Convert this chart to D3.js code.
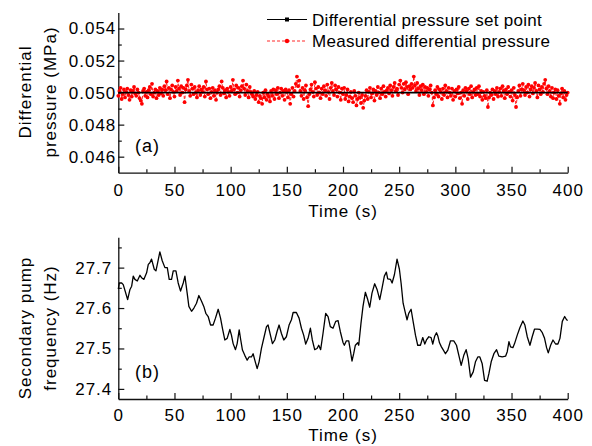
<!DOCTYPE html>
<html>
<head>
<meta charset="utf-8">
<script src="https://cdn.jsdelivr.net/npm/d3@7"></script>
<style>
body { margin: 0; background: #fff; }
svg text { font-family: "Liberation Sans", Arial, Helvetica, sans-serif; fill: #000; }
</style>
</head>
<body>
<svg id="chart" width="592" height="446"></svg>
<script>
// ---- data ----
const timeTicks = [0, 50, 100, 150, 200, 250, 300, 350, 400];
const timeMinor = [25, 75, 125, 175, 225, 275, 325, 375];
const dpTicks = [0.046, 0.048, 0.050, 0.052, 0.054];
const dpMinor = [0.047, 0.049, 0.051, 0.053];
const freqTicks = [27.4, 27.5, 27.6, 27.7];
const freqMinor = [27.45, 27.55, 27.65, 27.75];

// set point (MPa), from t=0 to t=400 s
const setTime = [0, 400];
const setValue = [0.050, 0.050];

// measured differential pressure, one sample per second (t = 0..400)
const measuredDP = [
  0.04980, 0.05010, 0.05030, 0.04960, 0.04990, 0.05020, 0.04970, 0.05005, 0.05025, 0.04985, 0.04955, 0.05015, 0.04975, 0.05010, 0.05035, 0.04995, 0.04980, 0.05020, 0.05000, 0.04965,
  0.04950, 0.04930, 0.05010, 0.05025, 0.04980, 0.05005, 0.04970, 0.05015, 0.05035, 0.04990, 0.05055, 0.04975, 0.05000, 0.05020, 0.04965, 0.05010, 0.04985, 0.05030, 0.04995, 0.05020,
  0.04980, 0.05040, 0.05015, 0.05070, 0.04990, 0.05030, 0.04965, 0.05020, 0.05045, 0.05005, 0.04975, 0.05035, 0.05010, 0.05075, 0.05025, 0.04985, 0.05040, 0.05000, 0.05030, 0.04940,
  0.05020, 0.05045, 0.05080, 0.05010, 0.04980, 0.05050, 0.05025, 0.04990, 0.05035, 0.05000, 0.04970, 0.05015, 0.05040, 0.04985, 0.05020, 0.05005, 0.05035, 0.04975, 0.05070, 0.05020,
  0.04990, 0.05025, 0.04965, 0.05005, 0.05030, 0.04980, 0.05015, 0.04955, 0.05000, 0.05020, 0.05040, 0.04985, 0.05070, 0.05030, 0.04995, 0.05015, 0.04970, 0.05025, 0.05005, 0.04980,
  0.05035, 0.05010, 0.05080, 0.05020, 0.04990, 0.05045, 0.05000, 0.05030, 0.04975, 0.05015, 0.05040, 0.05075, 0.05025, 0.04985, 0.05050, 0.05010, 0.04970, 0.05035, 0.05005, 0.04990,
  0.04975, 0.05010, 0.04960, 0.04985, 0.05005, 0.04940, 0.04980, 0.04965, 0.04930, 0.05000, 0.04970, 0.05015, 0.04955, 0.04990, 0.04975, 0.04945, 0.05010, 0.04980, 0.05020, 0.04960,
  0.05015, 0.04990, 0.05030, 0.04965, 0.05000, 0.05025, 0.04980, 0.05010, 0.04955, 0.05020, 0.05005, 0.04970, 0.05015, 0.04930, 0.04990, 0.05030, 0.04975, 0.05010, 0.05055, 0.05100,
  0.05040, 0.05075, 0.05010, 0.04980, 0.05030, 0.04960, 0.05015, 0.05045, 0.04970, 0.04915, 0.04990, 0.05020, 0.05050, 0.05005, 0.04975, 0.05065, 0.05025, 0.04985, 0.05035, 0.05000,
  0.04965, 0.05025, 0.04990, 0.05040, 0.05015, 0.04980, 0.05050, 0.05005, 0.04960, 0.05030, 0.05060, 0.05010, 0.04985, 0.05045, 0.05020, 0.04975, 0.05035, 0.05000, 0.04955, 0.05025,
  0.04990, 0.05030, 0.04960, 0.04985, 0.05020, 0.04945, 0.04975, 0.05005, 0.04965, 0.04940, 0.05010, 0.04980, 0.04920, 0.04960, 0.05000, 0.04970, 0.04935, 0.04985, 0.04905, 0.04950,
  0.04980, 0.05015, 0.04960, 0.05005, 0.05030, 0.04970, 0.04995, 0.05020, 0.04950, 0.05010, 0.04985, 0.05035, 0.05000, 0.04965, 0.05025, 0.04990, 0.05040, 0.05005, 0.04975, 0.05015,
  0.05030, 0.04995, 0.05045, 0.05015, 0.04980, 0.05035, 0.05060, 0.05010, 0.05025, 0.04985, 0.05050, 0.05075, 0.05030, 0.05000, 0.05055, 0.05020, 0.05065, 0.05035, 0.04990, 0.05040,
  0.05020, 0.05055, 0.05030, 0.05100, 0.05045, 0.05010, 0.05060, 0.05025, 0.04985, 0.05040, 0.05015, 0.05050, 0.04990, 0.05035, 0.05005, 0.05030, 0.04980, 0.05020, 0.05045, 0.05000,
  0.04920, 0.04970, 0.05015, 0.04990, 0.05035, 0.04975, 0.05020, 0.05005, 0.04960, 0.05025, 0.04985, 0.05045, 0.05010, 0.04970, 0.05030, 0.05000, 0.04980, 0.05025, 0.04955, 0.05010,
  0.04975, 0.05020, 0.04995, 0.05035, 0.04965, 0.05000, 0.04930, 0.05015, 0.04980, 0.05030, 0.05010, 0.04960, 0.05025, 0.04990, 0.05040, 0.04970, 0.05005, 0.05020, 0.04985, 0.05030,
  0.04990, 0.05040, 0.04975, 0.05010, 0.04955, 0.05005, 0.04980, 0.04965, 0.05015, 0.04910, 0.04970, 0.05000, 0.04985, 0.05020, 0.04960, 0.05010, 0.04990, 0.05030, 0.04975, 0.05005,
  0.05025, 0.04980, 0.05040, 0.05010, 0.04965, 0.05020, 0.04990, 0.05035, 0.05005, 0.04975, 0.05015, 0.04950, 0.05030, 0.04985, 0.04910, 0.04970, 0.05010, 0.05045, 0.04980, 0.05020,
  0.05055, 0.05015, 0.04985, 0.05035, 0.05000, 0.05050, 0.04975, 0.05020, 0.05040, 0.04995, 0.05030, 0.05060, 0.05010, 0.04970, 0.05045, 0.05020, 0.04990, 0.05035, 0.05005, 0.05055,
  0.05080, 0.05025, 0.04990, 0.05040, 0.05010, 0.04975, 0.05030, 0.04965, 0.05000, 0.05020, 0.04960, 0.05015, 0.04980, 0.04930, 0.04995, 0.05025, 0.04970, 0.05010, 0.04955, 0.04985,
  0.05000
];

// secondary pump frequency (Hz) vs time (s)
const pumpTime = [
  0, 0.9, 3.0, 4.4, 8.3, 10.4, 11.9, 13.3, 14.8, 16.9,
  19.3, 20.7, 22.8, 25.2, 26.7, 28.1, 29.6, 32.0, 33.5, 35.0,
  37.0, 39.1, 41.5, 43.6, 45.3, 47.4, 48.9, 51.3, 53.3, 55.4,
  57.8, 59.3, 61.3, 62.8, 65.2, 67.3, 69.6, 71.7, 74.1, 76.1,
  77.9, 80.0, 82.1, 84.4, 86.5, 88.9, 91.0, 92.7, 94.8, 96.9,
  99.3, 100.7, 102.2, 104.3, 105.8, 107.6, 109.0, 110.5, 112.6, 114.7,
  116.4, 118.5, 120.0, 121.5, 123.6, 125.3, 127.4, 129.8, 131.9, 133.3,
  135.4, 137.2, 139.3, 141.3, 143.1, 145.2, 147.3, 149.6, 152.0, 154.1,
  155.6, 158.5, 160.9, 163.0, 165.0, 166.8, 168.9, 171.0, 172.7, 174.8,
  176.9, 178.4, 180.1, 182.2, 184.6, 186.7, 188.7, 191.1, 193.5, 195.6,
  197.6, 200.0,
  201.2, 203.0, 205.1, 206.5, 208.0, 209.5, 211.0, 213.1, 214.0, 216.0,
  217.8, 219.9, 222.0, 223.8, 225.8, 228.2, 230.3, 232.7, 234.8, 236.8,
  238.6, 239.8, 242.2, 243.7, 245.8, 248.1, 250.2, 251.7, 253.5, 255.6,
  257.0, 258.5, 260.6, 262.4, 264.5, 266.5, 268.9, 271.0, 272.8, 274.3,
  276.4, 278.4, 279.9, 281.7, 283.2, 284.4, 285.9, 287.6, 289.1, 291.2,
  293.3, 295.7, 298.6, 301.0, 303.1, 305.2, 307.5, 309.6, 311.4, 313.5,
  315.9, 317.9, 320.0, 321.8, 323.9, 326.0, 328.3, 329.8, 331.9, 334.3,
  336.7, 338.7, 341.7, 344.7, 346.2, 347.7, 349.1, 351.2, 352.7, 355.1,
  357.5, 360.1, 361.9, 364.0, 366.4, 368.4, 370.5, 372.9, 375.3, 377.4,
  379.4, 381.2, 382.7, 384.8, 386.9, 389.2, 391.3, 393.1, 395.2, 397.3,
  399.0, 400.0
];
const pumpFreq = [
  27.647, 27.662, 27.662, 27.658, 27.621, 27.646, 27.654, 27.679, 27.671, 27.667,
  27.681, 27.675, 27.671, 27.687, 27.708, 27.712, 27.721, 27.696, 27.692, 27.712,
  27.739, 27.717, 27.700, 27.700, 27.671, 27.671, 27.692, 27.692, 27.662, 27.642,
  27.662, 27.679, 27.637, 27.604, 27.592, 27.600, 27.612, 27.631, 27.617, 27.604,
  27.587, 27.579, 27.558, 27.558, 27.575, 27.597, 27.575, 27.550, 27.521, 27.525,
  27.547, 27.533, 27.512, 27.497, 27.512, 27.546, 27.521, 27.496, 27.483, 27.471,
  27.479, 27.479, 27.487, 27.471, 27.450, 27.467, 27.500, 27.529, 27.554, 27.558,
  27.533, 27.512, 27.521, 27.542, 27.558, 27.537, 27.521, 27.529, 27.558, 27.571,
  27.589, 27.589, 27.575, 27.550, 27.533, 27.511, 27.525, 27.550, 27.521, 27.497,
  27.500, 27.508, 27.497, 27.537, 27.587, 27.579, 27.554, 27.550, 27.567, 27.569,
  27.542, 27.515,
  27.508, 27.519, 27.519, 27.496, 27.469, 27.487, 27.508, 27.514, 27.508, 27.562,
  27.604, 27.639, 27.621, 27.602, 27.637, 27.660, 27.646, 27.621, 27.650, 27.679,
  27.689, 27.672, 27.671, 27.662, 27.683, 27.721, 27.696, 27.662, 27.612, 27.587,
  27.571, 27.587, 27.597, 27.567, 27.533, 27.508, 27.508, 27.527, 27.511, 27.521,
  27.529, 27.527, 27.511, 27.531, 27.539, 27.531, 27.514, 27.504, 27.497, 27.487,
  27.496, 27.519, 27.519, 27.508, 27.483, 27.458, 27.483, 27.497, 27.475, 27.429,
  27.442, 27.467, 27.479, 27.479, 27.462, 27.421, 27.419, 27.437, 27.467, 27.487,
  27.497, 27.481, 27.479, 27.481, 27.492, 27.517, 27.504, 27.502, 27.512, 27.533,
  27.552, 27.568, 27.558, 27.529, 27.508, 27.529, 27.548, 27.548, 27.547, 27.539,
  27.525, 27.502, 27.489, 27.508, 27.521, 27.511, 27.511, 27.525, 27.567, 27.579,
  27.571, 27.569
];

const legendLabels = ["Differential pressure set point", "Measured differential pressure"];

// ---- layout ----
const svg = d3.select("#chart");
const left = 118.3, right = 567.7;
const fontSize = 17;

const x = d3.scaleLinear().domain([0, 400]).range([left, right]);
const yA = d3.scaleLinear().domain([0.045, 0.055]).range([172.7, 12.5]);
const yB = d3.scaleLinear().domain([27.375, 27.775]).range([399, 237.3]);

function styleAxis(g) {
    g.attr("font-size", null).attr("font-family", null);
    g.select(".domain").attr("stroke", "#111").attr("stroke-width", 1.3);
    g.selectAll(".tick line").attr("stroke", "#111").attr("stroke-width", 1.2);
    g.selectAll(".tick text")
        .style("font-size", fontSize + "px")
        .style("letter-spacing", "1px");
}

function drawPanel(yScale, yTicks, yMinor, fmt, yPad, xPad) {
    const y0 = yScale.range()[0];
    // x axis
    svg.append("g")
        .attr("transform", `translate(0,${y0})`)
        .call(d3.axisBottom(x).tickValues(timeTicks).tickSizeInner(-6).tickSizeOuter(0).tickPadding(xPad))
        .call(styleAxis);
    svg.append("g")
        .attr("transform", `translate(0,${y0})`)
        .call(d3.axisBottom(x).tickValues(timeMinor).tickSize(-3.5).tickFormat(""))
        .call(styleAxis)
        .call(g => g.select(".domain").remove());
    // y axis
    svg.append("g")
        .attr("transform", `translate(${left},0)`)
        .call(d3.axisLeft(yScale).tickValues(yTicks).tickSizeInner(-6).tickSizeOuter(0).tickPadding(yPad).tickFormat(fmt))
        .call(styleAxis);
    svg.append("g")
        .attr("transform", `translate(${left},0)`)
        .call(d3.axisLeft(yScale).tickValues(yMinor).tickSize(-3.5).tickFormat(""))
        .call(styleAxis)
        .call(g => g.select(".domain").remove());
}

drawPanel(yA, dpTicks, dpMinor, d3.format(".3f"), 2, 11);
drawPanel(yB, freqTicks, freqMinor, d3.format(".1f"), 6, 10);

// ---- panel (a) ----
const dpLine = d3.line()
    .x((d, i) => x(i))
    .y(d => yA(d));

svg.append("path")
    .datum(measuredDP)
    .attr("fill", "none")
    .attr("stroke", "#ff1010")
    .attr("stroke-width", 0.9)
    .attr("stroke-dasharray", "3,2")
    .attr("d", dpLine);

svg.append("g")
    .selectAll("circle")
    .data(measuredDP)
    .join("circle")
    .attr("cx", (d, i) => x(i))
    .attr("cy", d => yA(d))
    .attr("r", 1.9)
    .attr("fill", "#ff0000");

// set point drawn over the measured band
svg.append("path")
    .datum(setTime.map((t, i) => [t, setValue[i]]))
    .attr("fill", "none")
    .attr("stroke", "#000")
    .attr("stroke-width", 1.8)
    .attr("d", d3.line().x(d => x(d[0])).y(d => yA(d[1])));

// legend
const lg = svg.append("g");
lg.append("line").attr("x1", 267).attr("x2", 307).attr("y1", 19.5).attr("y2", 19.5)
    .attr("stroke", "#000").attr("stroke-width", 1.2);
lg.append("rect").attr("x", 285).attr("y", 17.5).attr("width", 4).attr("height", 4).attr("fill", "#000");
lg.append("line").attr("x1", 267).attr("x2", 307).attr("y1", 41).attr("y2", 41)
    .attr("stroke", "#ff1010").attr("stroke-width", 0.9).attr("stroke-dasharray", "3,2");
lg.append("circle").attr("cx", 287).attr("cy", 41).attr("r", 2.2).attr("fill", "#ff0000");
lg.selectAll("text")
    .data(legendLabels)
    .join("text")
    .attr("x", 312)
    .attr("y", (d, i) => 25.5 + i * 21.5)
    .style("font-size", fontSize + "px")
    .style("letter-spacing", "0.3px")
    .text(d => d);

// ---- panel (b) ----
svg.append("path")
    .datum(pumpTime.map((t, i) => [t, pumpFreq[i]]))
    .attr("fill", "none")
    .attr("stroke", "#000")
    .attr("stroke-width", 1.3)
    .attr("stroke-linejoin", "round")
    .attr("d", d3.line().x(d => x(d[0])).y(d => yB(d[1])));

// ---- labels ----
function label(txt, xx, yy) {
    svg.append("text").attr("x", xx).attr("y", yy)
        .style("font-size", "18px")
        .style("letter-spacing", "1px")
        .text(txt);
}
label("(a)", 135, 152);
label("(b)", 135, 378);

const midX = (left + right) / 2;
svg.append("text").attr("x", midX).attr("y", 216.5).attr("text-anchor", "middle")
    .style("font-size", fontSize + "px").style("letter-spacing", "1px").text("Time (s)");
svg.append("text").attr("x", midX).attr("y", 440.5).attr("text-anchor", "middle")
    .style("font-size", fontSize + "px").style("letter-spacing", "1px").text("Time (s)");

function yTitle(lines, yc) {
    const g = svg.append("g").attr("transform", `translate(0,${yc}) rotate(-90)`);
    g.selectAll("text")
        .data(lines)
        .join("text")
        .attr("x", 0)
        .attr("y", (d, i) => 31 + i * 25)
        .attr("text-anchor", "middle")
        .style("font-size", fontSize + "px")
        .style("letter-spacing", "1px")
        .text(d => d);
}
yTitle(["Differential", "pressure (MPa)"], 92);
yTitle(["Secondary pump", "frequency (Hz)"], 328);
</script>
</body>
</html>
